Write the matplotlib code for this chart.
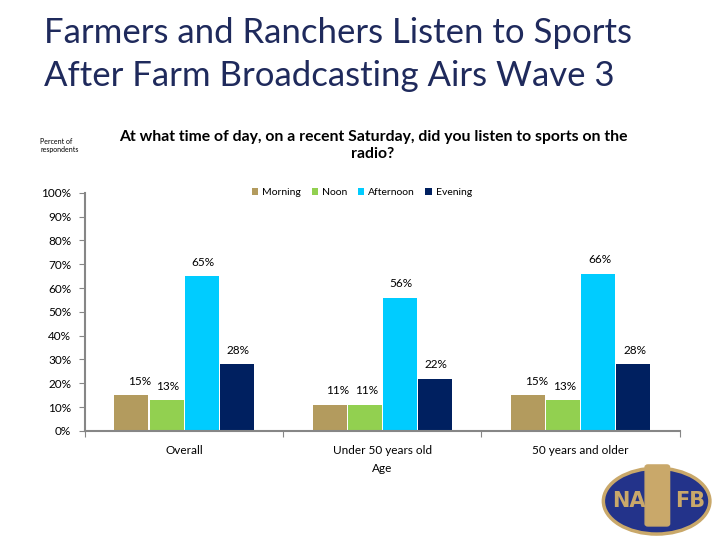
import matplotlib.pyplot as plt
import numpy as np
from matplotlib.patches import Ellipse, FancyBboxPatch

groups = ['Overall', 'Under 50 years old', '50 years and older']
times = ['Morning', 'Noon', 'Afternoon', 'Evening']
morning = [15, 11, 15]
noon = [13, 11, 13]
afternoon = [65, 56, 66]
evening = [28, 22, 28]
colors = ['#B39B5E', '#92D050', '#00CCFF', '#002060']

plt.rcParams['font.family'] = ['Lato', 'DejaVu Sans']

fig = plt.figure(figsize=(7.2, 5.4), dpi=100)
ax = fig.add_axes([0.118, 0.202, 0.826, 0.441])

x = np.arange(len(groups))
w = 0.177
series = [morning, noon, afternoon, evening]
for i, (vals, c, name) in enumerate(zip(series, colors, times)):
    pos = x + (i - 1.5) * w
    bars = ax.bar(pos, vals, w * 0.97, color=c, label=name)
    for b, v in zip(bars, vals):
        dx = 6 if i == 0 else 1
        ax.annotate(f'{v}%', (b.get_x() + b.get_width() / 2, v),
                    xytext=(dx, 10), textcoords='offset points',
                    ha='center', va='center', fontsize=8.5)

ax.set_xlim(-0.5, 2.5)
ax.set_ylim(0, 100)
ax.set_yticks(np.arange(0, 101, 10))
ax.set_yticklabels([f'{t}%' for t in range(0, 101, 10)], fontsize=8.5)
ax.set_xticks([-0.5, 0.5, 1.5, 2.5])
ax.set_xticks(x, minor=True)
ax.set_xticklabels([])
ax.set_xticklabels(groups, minor=True, fontsize=8.5)
ax.tick_params(axis='x', which='minor', length=0, pad=10)
ax.tick_params(axis='x', which='major', length=4, color='#868686')
ax.tick_params(axis='y', length=4, color='#868686', pad=6)
ax.set_xlabel('Age', fontsize=8.5, labelpad=5)
for s in ['top', 'right']:
    ax.spines[s].set_visible(False)
for s in ['left', 'bottom']:
    ax.spines[s].set_color('#868686')
    ax.spines[s].set_linewidth(1.5)

ax.legend(loc='upper center', bbox_to_anchor=(0.466, 1.06), ncol=4, frameon=False,
          fontsize=7.5, handlelength=0.6, handleheight=0.6, handletextpad=0.4,
          columnspacing=1.0)

fig.text(0.061, 0.968, 'Farmers and Ranchers Listen to Sports\nAfter Farm Broadcasting Airs Wave 3',
         fontsize=25, color='#1F2A5C', va='top', ha='left', linespacing=1.4)
fig.text(0.518, 0.73, 'At what time of day, on a recent Saturday, did you listen to sports on the\nradio?',
         fontsize=11.3, fontweight='bold', ha='center', va='center', linespacing=1.3)
fig.text(0.056, 0.73, 'Percent of\nrespondents', fontsize=5, va='center', ha='left')

# logo
logo = Ellipse((0.912, 0.072), 0.148, 0.122, transform=fig.transFigure,
               facecolor='#23338A', edgecolor='#C9A86A', linewidth=2.5)
fig.add_artist(logo)
mic = FancyBboxPatch((0.9, 0.03), 0.026, 0.105, boxstyle='round,pad=0.004',
                     transform=fig.transFigure, facecolor='#C9A86A', edgecolor='#C9A86A')
fig.add_artist(mic)
fig.text(0.873, 0.072, 'NA', fontsize=15, fontweight='bold', color='#C9A86A',
         ha='center', va='center', family='Liberation Sans Narrow')
fig.text(0.958, 0.072, 'FB', fontsize=15, fontweight='bold', color='#C9A86A',
         ha='center', va='center', family='Liberation Sans Narrow')

fig.savefig('out.png', dpi=100)
